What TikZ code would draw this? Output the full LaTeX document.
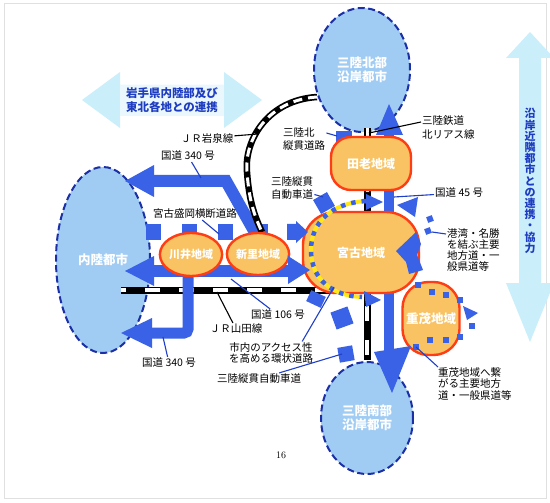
\documentclass[tikz,border=0pt]{standalone}
\usepackage{fontspec}
\newfontfamily\jp{Noto Sans CJK JP}
\usetikzlibrary{shapes.geometric}
\definecolor{cityfill}{HTML}{A0CCF4}
\definecolor{cityedge}{HTML}{1B2FA6}
\definecolor{rfill}{HTML}{F9C262}
\definecolor{redge}{HTML}{FF3D14}
\definecolor{road}{HTML}{3A62E6}
\definecolor{pale}{HTML}{CBEFFA}
\definecolor{palebox}{HTML}{EAF7FC}
\definecolor{tblue}{HTML}{1E3CC0}
\definecolor{leadc}{HTML}{1F3FC8}
\definecolor{ringy}{HTML}{FFE81A}
\begin{document}
\begin{tikzpicture}[x=1pt,y=-1pt,
 city/.style={ellipse, fill=cityfill, draw=cityedge, line width=2pt, dash pattern=on 7pt off 3.5pt, inner sep=0pt, text=white, font=\jp\bfseries\fontsize{12.5}{14}\selectfont, align=center},
 region/.style={fill=rfill, draw=redge, line width=2.4pt, inner sep=0pt, text=white, font=\jp\bfseries\fontsize{12}{14}\selectfont},
 lbl/.style={font=\jp\fontsize{10.5}{11}\selectfont, inner sep=1pt, text=black},
 lead/.style={draw=leadc, line width=1.1pt},
 leadk/.style={draw=black, line width=1.1pt},
 railbase/.style={draw=black, line width=7pt},
 railwhite/.style={draw=white, line width=3.6pt, dash pattern=on 15pt off 19pt},
 arrtext/.style={text=tblue, font=\jp\bfseries\fontsize{11.5}{14}\selectfont, align=center, inner sep=0pt}
]
\useasboundingbox (0,0) rectangle (550,503);
\fill[white] (0,0) rectangle (550,503);
\draw[black!12, line width=1pt] (4,4) rectangle (546,498);

% pale double arrows
\fill[pale] (82,100) -- (120,72) -- (120,85) -- (224,85) -- (224,72) -- (262,100) -- (224,128) -- (224,116) -- (120,116) -- (120,128) -- cycle;
\fill[palebox] (120,85) rectangle (224,116);
\node[arrtext] (tInland) at (172,100) {岩手県内陸部及び\\東北各地との連携};
\fill[pale] (530,32) -- (554,58) -- (541,58) -- (541,283) -- (554,283) -- (530,342) -- (506,283) -- (519,283) -- (519,58) -- (506,58) -- cycle;
\node[arrtext, font=\jp\bfseries\fontsize{11}{11.2}\selectfont] (tCoast) at (530,181) {沿\\岸\\近\\隣\\都\\市\\と\\の\\連\\携\\・\\協\\力};

% cities
\node[city, minimum width=96pt, minimum height=124pt] (north) at (362,70) {三陸北部\\沿岸都市};
\node[city, minimum width=92pt, minimum height=112pt] (south) at (367,418) {三陸南部\\沿岸都市};
\node[city, minimum width=94pt, minimum height=186pt] (inland) at (103,260) {内陸都市};

% railways (under roads)
\draw[railbase] (121,290) -- (367,290) -- (367,360);
\draw[railwhite, dash phase=10pt] (121,290) -- (367,290) -- (367,360);
\draw[railbase] (367,128) -- (367,214);
\draw[railwhite, line width=3pt, dash pattern=on 8pt off 6pt] (367,128) -- (367,214);

% national route 45 shaft and north block
\draw[road, line width=10pt] (389,130) -- (389,352);
\fill[road] (336,131) rectangle (352,145);

% route 340 upper
\draw[road, line width=12pt] (257,236) -- (226,181) -- (152,181);
\fill[road] (154,165) -- (125,181) -- (154,197) -- cycle;
% route 106
\draw[road, line width=12pt] (150,271) -- (292,271);
\fill[road] (154,256) -- (125,271) -- (154,286) -- cycle;
% route 340 lower
\draw[road, line width=11pt, rounded corners=4pt] (188,271) -- (188,333) -- (150,333);
\fill[road] (152,318) -- (121,333) -- (152,348) -- cycle;
% Miyako-Morioka road boxes
\foreach \xx in {153,189,225,260} \fill[road] (\xx-7.5,224) rectangle (\xx+7.5,240);

% JR Iwaizumi line arc
\draw[railbase, line width=6.5pt] (317,97) .. controls (268,100) and (244,140) .. (247,172) .. controls (249,200) and (254,215) .. (262,232);
\draw[white, line width=3pt, dash pattern=on 9pt off 6pt] (317,97) .. controls (268,100) and (244,140) .. (247,172) .. controls (249,200) and (254,215) .. (262,232);

% regions
\node[region, rectangle, rounded corners=20pt, minimum width=80pt, minimum height=53pt] (taro) at (371,163.5) {田老地域};
\node[region, rectangle, rounded corners=33pt, minimum width=116pt, minimum height=81pt] (miyako) at (361,252.5) {宮古地域};
\node[region, ellipse, minimum width=52pt, minimum height=43pt, font=\jp\bfseries\fontsize{11}{13}\selectfont] (kawai) at (191,254.5) {川井地域};
\node[region, ellipse, minimum width=51pt, minimum height=42pt, font=\jp\bfseries\fontsize{11}{13}\selectfont] (niisato) at (258,254) {新里地域};
\node[region, rectangle, rounded corners=26pt, minimum width=57pt, minimum height=73pt, font=\jp\bfseries\fontsize{12.5}{14}\selectfont] (omoe) at (431,318.5) {重茂地域};

% overlays on regions
\fill[road] (288,256) -- (310,270) -- (288,284) -- cycle;
\fill[road] (287,224) -- (296,224) -- (296,221) -- (308,232) -- (296,243) -- (296,240) -- (287,240) -- cycle;
% ring road
\draw[ringy, line width=4pt] (366,201) .. controls (332,203) and (311,222) .. (311,250) .. controls (311,280) and (333,296) .. (362,297);
\draw[road, line width=4.5pt, dash pattern=on 4.5pt off 6pt] (366,201) .. controls (332,203) and (311,222) .. (311,250) .. controls (311,280) and (333,296) .. (362,297);
\fill[road] (366,194) -- (383,202) -- (366,210) -- cycle;
\fill[road] (364,291) -- (381,300) -- (366,307) -- cycle;
% Sanriku expressway blocks
\fill[road, rotate around={30:(324,203)}] (316,195) rectangle (332,211);
\fill[road, rotate around={-25:(316,299)}] (308,293) rectangle (324,305);
\fill[road, rotate around={20:(342,318)}] (333,309) rectangle (351,327);
\fill[road, rotate around={10:(346,354)}] (338.5,346.5) rectangle (353.5,361.5);
% route 45 heads
\fill[road] (376,135) -- (389,104) -- (403,135) -- cycle;
\fill[road] (374,352) -- (411,346) -- (392,393) -- cycle;
% harbour roads
\fill[road] (397,205) -- (418,197) -- (415,217) -- cycle;
\fill[road, rotate around={20:(430,219)}] (427,216) rectangle (433,222);
\fill[road, rotate around={20:(428,231)}] (425,228) rectangle (431,234);
\fill[road] (396,251) -- (416,232) -- (421,244) -- (417,255) -- (423,270) -- (409,274) -- (406,262) -- cycle;
% Omoe dotted road
\foreach \p in {(418,285),(432,292),(446,295),(460,300),(472,326),(460,337),(446,340),(430,340),(416,347)}
  \fill[road] \p ++(-3,-3) rectangle ++(6,6);
\fill[road] (463,306) -- (478,313) -- (467,320) -- cycle;

% label targets
\coordinate (cIwa) at (258,134);
\coordinate (c340a) at (201,178);
\coordinate (cYoko) at (219,234);
\coordinate (cNorth) at (337,136);
\coordinate (cRias) at (369,133);
\coordinate (cJukA) at (323,197);
\coordinate (c45) at (394,197);
\coordinate (cKowan) at (432,232);
\coordinate (c106) at (231,279);
\coordinate (cYamada) at (217,292);
\coordinate (cRing) at (334,287);
\coordinate (c340b) at (163,337);
\coordinate (cJukB) at (342,354);
\coordinate (cOmoe) at (416,347);

% labels
\node[lbl] (lIwa) at (207,138) {ＪＲ岩泉線};
\node[lbl] (l340a) at (188,156) {国道 340 号};
\node[lbl] (lYoko) at (195,214) {宮古盛岡横断道路};
\node[lbl, align=left, anchor=north west, font=\jp\fontsize{10.5}{13}\selectfont] (lNorth) at (282,126) {三陸北\\縦貫道路};
\node[lbl, align=left, anchor=west, font=\jp\fontsize{10.5}{14}\selectfont] (lRias) at (421,128) {三陸鉄道\\北リアス線};
\node[lbl, align=left, anchor=west, font=\jp\fontsize{10.5}{13.5}\selectfont] (lJukA) at (270,188) {三陸縦貫\\自動車道};
\node[lbl, anchor=west] (l45) at (434,193) {国道 45 号};
\node[lbl, align=left, anchor=north west] (lKowan) at (446,227) {港湾・名勝\\を結ぶ主要\\地方道・一\\般県道等};
\node[lbl] (l106) at (278,315) {国道 106 号};
\node[lbl] (lYamada) at (236,329) {ＪＲ山田線};
\node[lbl, align=center] (lRing) at (271,353) {市内のアクセス性\\を高める環状道路};
\node[lbl] (l340b) at (169,363) {国道 340 号};
\node[lbl] (lJukB) at (259,379) {三陸縦貫自動車道};
\node[lbl, align=left, anchor=north west, font=\jp\fontsize{10.5}{11.5}\selectfont] (lOmoe) at (437,366) {重茂地域へ繋\\がる主要地方\\道・一般県道等};
\node[inner sep=0pt, font=\fontsize{10}{12}\selectfont] (pnum) at (281,455) {16};

% leaders
\draw[leadk] (lIwa) -- (cIwa);
\draw[lead] (l340a) -- (c340a);
\draw[lead] (lYoko) -- (cYoko);
\draw[lead] (lNorth.north east) ++(0,7) coordinate (nN) ;
\draw[lead] (nN) -- (cNorth);
\draw[leadk] (lRias.west) ++(0,-6) coordinate (nR);
\draw[leadk] (nR) -- (cRias);
\draw[lead] (lJukA) -- (cJukA);
\draw[lead] (l45) -- (c45);
\draw[lead] (lKowan.north west) ++(0,7) coordinate (nK);
\draw[lead] (nK) -- (cKowan);
\draw[lead] (l106) -- (c106);
\draw[leadk] (lYamada) -- (cYamada);
\draw[lead] (lRing.north east) ++(-12,0) coordinate (nRg);
\draw[lead] (nRg) -- (cRing);
\draw[lead] (l340b) -- (c340b);
\draw[lead] (lJukB) -- (cJukB);
\draw[lead] (lOmoe.north west) ++(1,1) coordinate (nO);
\draw[lead] (nO) -- (cOmoe);
\end{tikzpicture}
\end{document}
